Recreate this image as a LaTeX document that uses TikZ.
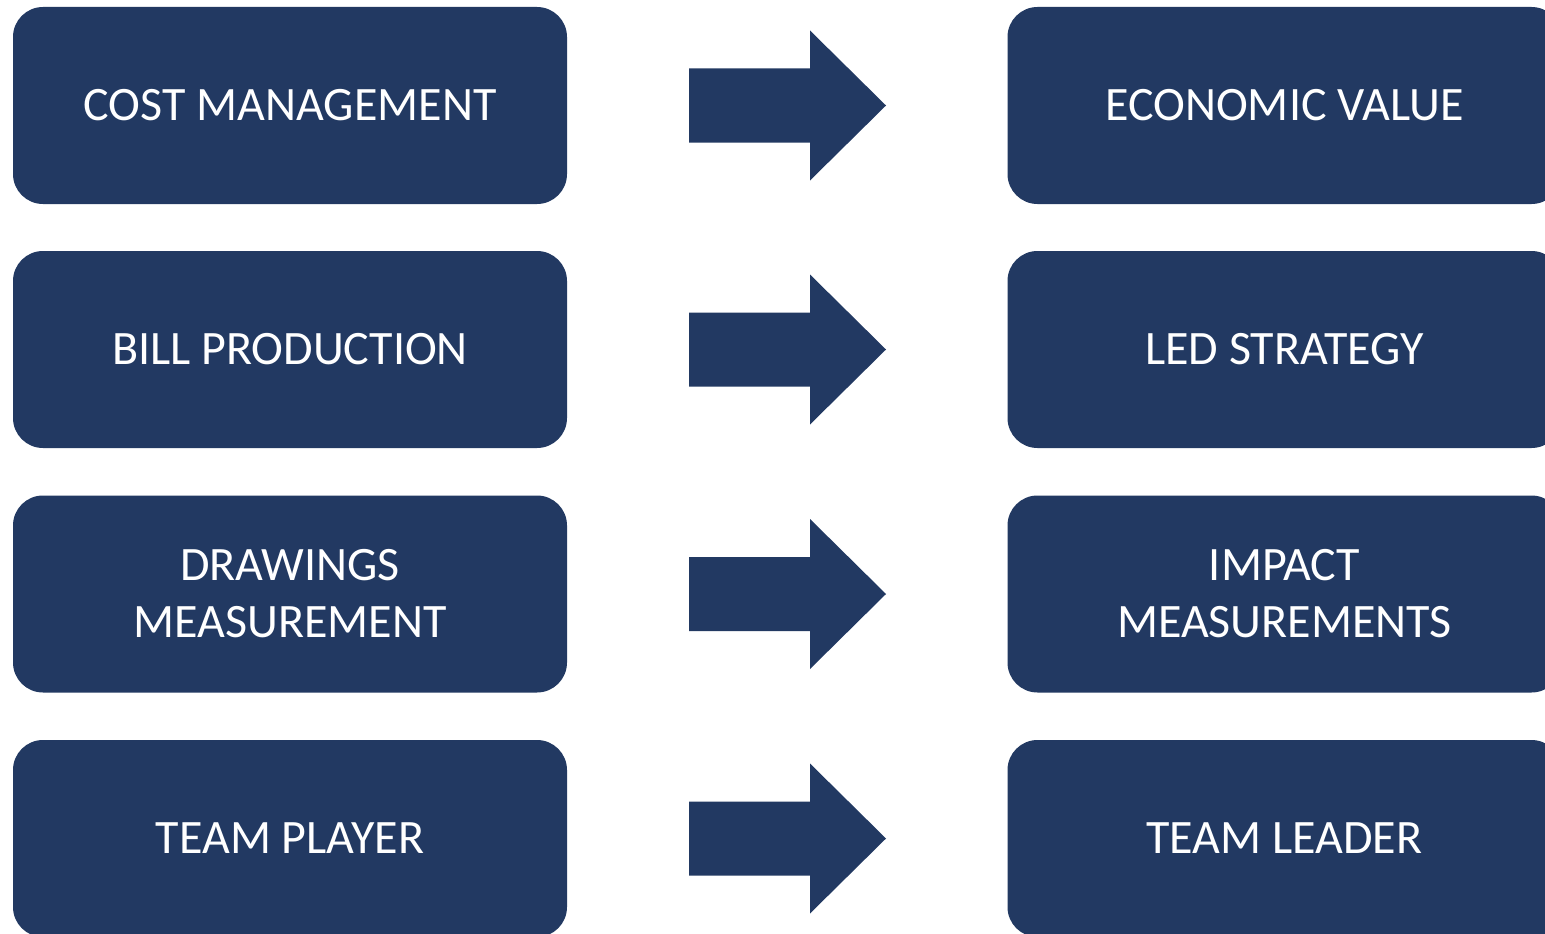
\documentclass[tikz,border=0pt]{standalone}
\usepackage{fontspec}
\setmainfont{Carlito}
\definecolor{navy}{RGB}{34,57,98}
\tikzset{
  box/.style={fill=navy, rounded corners=30pt, minimum width=554pt, minimum height=197pt,
    inner sep=0pt, text=white, align=center, font=\fontsize{48}{57}\selectfont},
  bigarrow/.style={fill=navy},
}
\begin{document}
\begin{tikzpicture}[x=1pt,y=-1pt]
\useasboundingbox (0,0) rectangle (1545,934);
\clip (0,0) rectangle (1545,934);
\fill[white] (0,0) rectangle (1545,934);
\foreach \i/\yc/\lt/\rt in {1/105.5/{COST MANAGEMENT}/{ECONOMIC VALUE},
                           2/349.5/{BILL PRODUCTION}/{LED STRATEGY},
                           3/594/{DRAWINGS\\MEASUREMENT}/{IMPACT\\MEASUREMENTS},
                           4/838.5/{TEAM PLAYER}/{TEAM LEADER}}{
  \node[box] (l\i) at (290,\yc) {\lt};
  \node[box] (r\i) at (1284.5,\yc) {\rt};
  \coordinate (a\i) at (689,\yc);
  \fill[bigarrow] (a\i) ++(0,-37) -- ++(121,0) -- ++(0,-38) -- ++(76,75) -- ++(-76,75) -- ++(0,-38) -- ++(-121,0) -- cycle;
}
\end{tikzpicture}
\end{document}
